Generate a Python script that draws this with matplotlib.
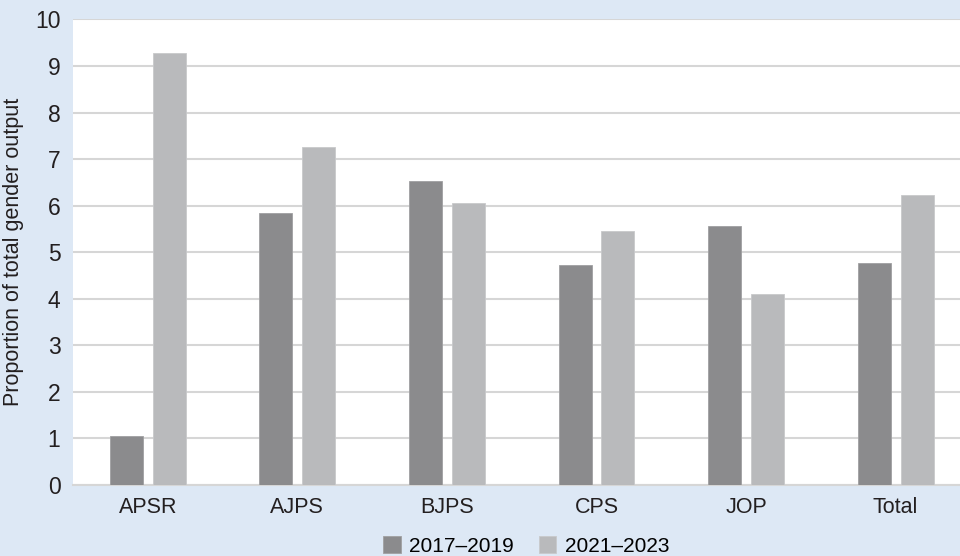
import numpy as np
import matplotlib.pyplot as plt

plt.rcParams['font.family'] = ['Liberation Sans', 'DejaVu Sans']

journals = ['APSR', 'AJPS', 'BJPS', 'CPS', 'JOP', 'Total']
p_2017_2019 = [1.04, 5.84, 6.53, 4.72, 5.57, 4.76]
p_2021_2023 = [9.29, 7.27, 6.05, 5.46, 4.11, 6.23]

bg = '#dde8f5'
fig = plt.figure(figsize=(9.6, 5.56), dpi=100, facecolor=bg)
ax = fig.add_axes([0.076, 0.128, 0.924, 0.837])
ax.set_facecolor('white')

x = np.arange(len(journals))
w = 0.22
ax.bar(x - 0.143, p_2017_2019, w, color='#8b8b8d', edgecolor='#a0a0a2',
       linewidth=0.6, label='2017\u20132019', zorder=3)
ax.bar(x + 0.143, p_2021_2023, w, color='#b9babc', edgecolor='#c8c9cb',
       linewidth=0.6, label='2021\u20132023', zorder=3)

ax.set_ylim(0, 10)
ax.set_yticks(range(0, 11))
ax.set_xlim(-0.5, 5.43)
ax.set_xticks(x)
ax.set_xticklabels(journals)
ax.yaxis.grid(True, color='#d6d6d6', linewidth=1.5, zorder=0)
ax.tick_params(axis='y', length=0, labelsize=16.5, colors='#231f20', pad=9)
ax.tick_params(axis='x', length=0, labelsize=15.5, colors='#231f20', pad=9)
for s in ['top', 'right', 'left']:
    ax.spines[s].set_visible(False)
ax.spines['bottom'].set_color('#d6d6d6')
ax.spines['bottom'].set_linewidth(1.5)
ax.set_ylabel('Proportion of total gender output', fontsize=15.5,
              color='#231f20', labelpad=8)

fig.legend(loc='lower center', bbox_to_anchor=(0.548, -0.033), ncol=2,
           frameon=False, fontsize=15, handlelength=0.85, handleheight=0.85,
           handletextpad=0.4, columnspacing=1.2)

fig.savefig('out.png', dpi=100, facecolor=bg)
